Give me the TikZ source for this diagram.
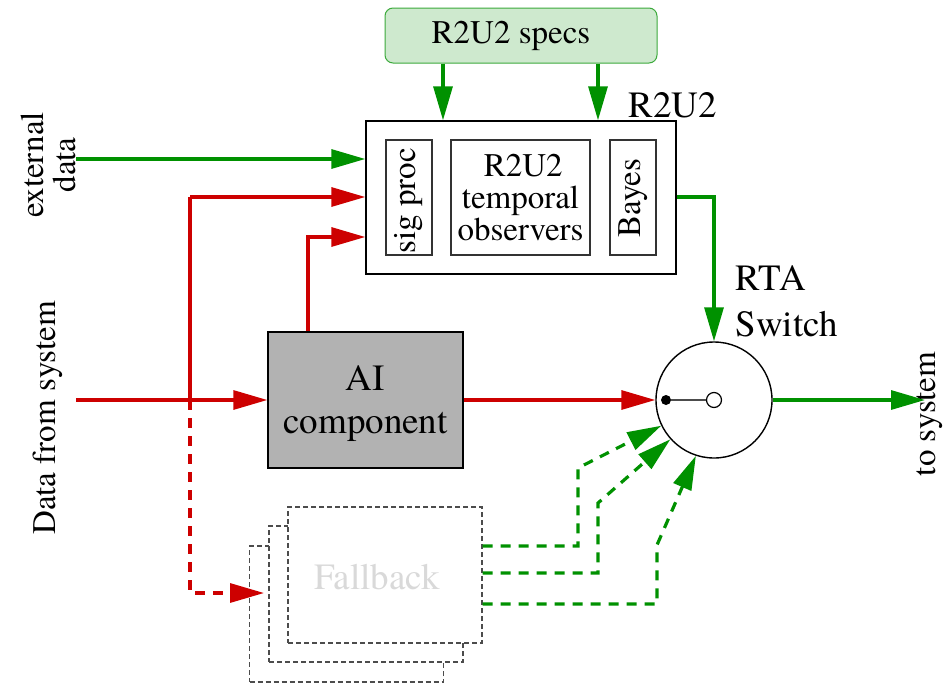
\documentclass[tikz,border=0pt]{standalone}
\usepackage{fontspec}
\newfontfamily\tnr{texgyretermes-regular.otf}
\usetikzlibrary{arrows.meta}
\definecolor{gr}{RGB}{0,145,0}
\definecolor{rd}{RGB}{205,0,0}
\definecolor{specfill}{RGB}{206,233,206}
\definecolor{specdraw}{RGB}{60,170,60}
\begin{document}
\begin{tikzpicture}[x=1pt,y=-1pt,
 tip/.style={-{Triangle[length=34pt,width=19pt]}},
 gline/.style={draw=gr,line width=3.2pt,tip},
 rline/.style={draw=rd,line width=3.2pt,tip},
 dsh/.style={dash pattern=on 10pt off 8pt},
 box/.style={draw,line width=1.4pt,inner sep=0pt},
 innerbox/.style={draw=black!80,line width=1.2pt,inner sep=0pt,minimum height=115pt},
 small/.style={font=\tnr\fontsize{33}{32}\selectfont},
 big/.style={font=\tnr\fontsize{37}{43}\selectfont},
 fb/.style={draw=black!70,fill=white,line width=1.2pt,dash pattern=on 5pt off 3pt,minimum width=194pt,minimum height=136pt,inner sep=0pt},
]
\useasboundingbox (0,0) rectangle (948,683);

% R2U2 specs
\node[draw=specdraw,fill=specfill,line width=1pt,rounded corners=8pt,minimum width=272pt,minimum height=55pt,inner sep=0pt] (specs) at (521,35.5) {};
\node[small] (specst) at (511,35.5) {R2U2 specs};

% R2U2 main box
\node[box,minimum width=310pt,minimum height=153pt] (r2u2) at (521,197.5) {};
\node[big,anchor=base west] (r2u2lbl) at (625,117) {R2U2};
\node[innerbox,minimum width=46pt] (sig) at (409,197.5) {};
\node[small,rotate=90] (sigt) at (409,201) {sig proc};
\node[innerbox,minimum width=139pt,small,align=center] (temp) at (520.5,197.5) {\,R2U2\\temporal\\observers};
\node[innerbox,minimum width=46pt] (bay) at (633,197.5) {};
\node[small,rotate=90] (bayt) at (633,198) {Bayes};

% AI component
\node[box,fill=black!30,minimum width=195pt,minimum height=136pt] (ai) at (365.5,400) {};
\node[big,align=center] (ait) at (365.5,404) {AI\\component};

% Fallback stack
\node[fb] (fb3) at (346.5,614) {};
\node[fb] (fb2) at (366,594) {};
\node[fb] (fb1) at (385,575) {};
\node[font=\tnr\fontsize{37}{40}\selectfont,text=black!15] (fbt) at (377,577) {Fallback};

% Switch
\node[circle,draw,line width=1.4pt,minimum size=116pt,inner sep=0pt] (sw) at (714,400) {};
\node[circle,fill=black,inner sep=0pt,minimum size=10pt] (dot) at (666,400) {};
\node[circle,draw,fill=white,line width=1.2pt,inner sep=0pt,minimum size=15pt] (oc) at (714,400) {};
\draw[black!70,line width=1.2pt] (dot) -- (oc);
\node[font=\tnr\fontsize{37}{46}\selectfont,align=left,anchor=north west] (rta) at (732,262) {RTA\\Switch};

% side labels
\node[small,rotate=90,align=center] (ext) at (48,165) {external\\data};
\node[small,rotate=90] (dfs) at (48,418) {Data from system};
\node[small,rotate=90] (tosys) at (930,414) {to system};

% coordinates
\coordinate (extS) at (76,159);
\coordinate (dfsS) at (76,400);
\coordinate (rv) at (190,197);
\coordinate (rx) at (190,400);
\coordinate (rb) at (190,593);
\coordinate (fbin) at (264,593);
\coordinate (aiup) at (308,237);
\coordinate (bz) at (714,197);
\coordinate (a1) at (443,0);
\coordinate (a2) at (598,0);
\coordinate (outE) at (925,400);
\coordinate (g1a) at (578,546);
\coordinate (g1b) at (578,468);
\coordinate (g2a) at (598,573);
\coordinate (g2b) at (598,503);
\coordinate (g3a) at (657,604);
\coordinate (g3b) at (657,545);

% green connectors
\draw[gline] (specs.south -| a1) -- (a1 |- r2u2.north);
\draw[gline] (specs.south -| a2) -- (a2 |- r2u2.north);
\draw[gline] (extS) -- (extS -| r2u2.west);
\draw[gline] (bz -| r2u2.east) -- (bz) -- (sw.north);
\draw[gline] (sw.east) -- (outE);
\draw[gline,dsh] (fb1.east |- g1a) -- (g1a) -- (g1b) -- (sw.206);
\draw[gline,dsh] (fb1.east |- g2a) -- (g2a) -- (g2b) -- (sw.222);
\draw[gline,dsh] (fb1.east |- g3a) -- (g3a) -- (g3b) -- (sw.252);

% red connectors
\draw[rd,line width=3.2pt] (rx) -- (rv);
\draw[rline] (rv) -- (rv -| r2u2.west);
\draw[rline,dsh] (rx) -- (rb) -- (fbin);
\draw[rline] (dfsS) -- (ai.west);
\draw[rline] (ai.north -| aiup) -- (aiup) -- (aiup -| r2u2.west);
\draw[rline] (ai.east) -- (sw.west);
\end{tikzpicture}
\end{document}
